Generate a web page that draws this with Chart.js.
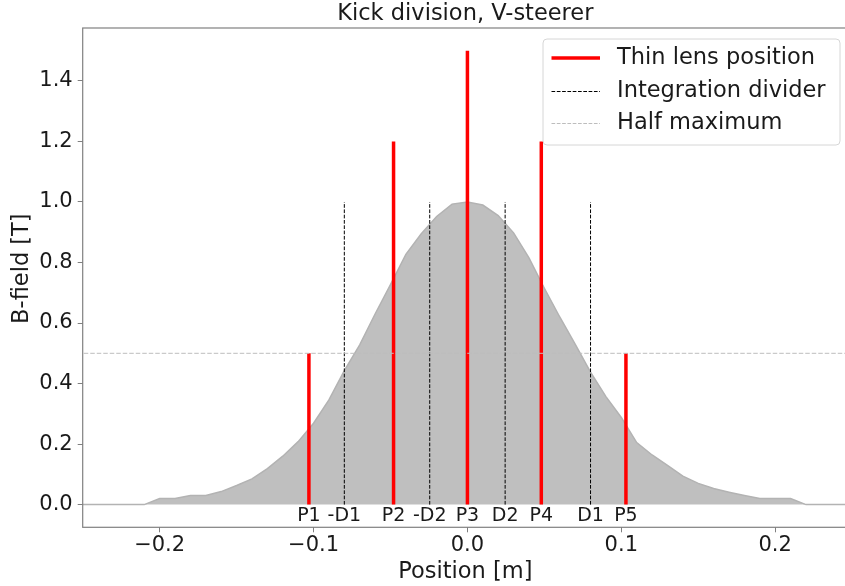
<!DOCTYPE html>
<html>
<head>
<meta charset="utf-8">
<script src="https://cdn.jsdelivr.net/npm/chart.js@4.4.1/dist/chart.umd.min.js"></script>
<style>
    html, body { margin: 0; padding: 0; background: #fff; overflow: hidden; }
    #wrap { position: relative; width: 848px; height: 586px; }
</style>
</head>
<body>
<div id="wrap"><canvas id="kickChart"></canvas></div>
<script>
// Field profile along the steerer
const fieldX = [-0.26, -0.21, -0.20, -0.19, -0.18, -0.17, -0.16, -0.15, -0.14, -0.13, -0.12, -0.11,
    -0.10, -0.09, -0.08, -0.07, -0.06, -0.05, -0.04, -0.03, -0.02, -0.01, 0.00,
    0.01, 0.02, 0.03, 0.04, 0.05, 0.06, 0.07, 0.08, 0.09, 0.10, 0.11, 0.12, 0.13,
    0.14, 0.15, 0.16, 0.17, 0.18, 0.19, 0.20, 0.21, 0.22, 0.26];
const fieldB = [0, 0, 0.02, 0.02, 0.03, 0.03, 0.043, 0.063, 0.085, 0.119, 0.16, 0.208,
    0.269, 0.346, 0.443, 0.528, 0.63, 0.727, 0.827, 0.895, 0.952, 0.993, 1.0,
    0.99, 0.955, 0.898, 0.815, 0.715, 0.62, 0.53, 0.438, 0.357, 0.288, 0.205, 0.164, 0.13,
    0.094, 0.07, 0.053, 0.041, 0.03, 0.02, 0.02, 0.02, 0, 0];

// Thin lens positions and kick heights
const lensPos = [-0.103, -0.048, 0.0, 0.048, 0.103];
const lensHeight = [0.5, 1.2, 1.5, 1.2, 0.5];
const lensLabels = ['P1', 'P2', 'P3', 'P4', 'P5'];

// Integration dividers
const dividerPos = [-0.08, -0.0245, 0.0245, 0.08];
const dividerHeight = [1.0, 1.0, 1.0, 1.0];
const dividerLabels = ['-D1', '-D2', 'D2', 'D1'];

const halfMax = 0.5;
const halfMaxSpan = [-0.3, 0.3];

const xTicksStep = 0.1;
const yTicksStep = 0.2;

const chartTitle = 'Kick division, V-steerer';
const yTitle = 'B-field [T]';
const xTitle = 'Position [m]';

const fontFamily = "'DejaVu Sans', sans-serif";
const textColor = '#1a1a1a';
const spineColor = '#808080';
const fillGrey = '#bfbfbf';
const lensRed = '#ff0000';
const labelSize = 22.5;

function verticalSegments(xs, hs) {
    const pts = [];
    xs.forEach((x, i) => {
        pts.push({ x: x, y: 0 });
        pts.push({ x: x, y: hs[i] });
        pts.push({ x: x, y: null });
    });
    return pts;
}

function fmtTick(v) {
    if (Math.abs(v) < 1e-9) return '0.0';
    return (v < 0 ? '\u2212' : '') + Math.abs(v).toFixed(1);
}

// frame, titles, position labels and legend box
const extrasPlugin = {
    id: 'extras',
    afterDatasetsDraw(chart) {
        const { ctx, chartArea: a, scales: { x, y } } = chart;
        ctx.save();
        // frame (all four spines)
        ctx.strokeStyle = spineColor;
        ctx.lineWidth = 1.2;
        ctx.strokeRect(a.left, a.top, a.right - a.left, a.bottom - a.top);

        // title centred over the axes
        ctx.fillStyle = textColor;
        ctx.font = `${labelSize}px ${fontFamily}`;
        ctx.textAlign = 'center';
        ctx.textBaseline = 'middle';
        ctx.fillText(chartTitle, (a.left + a.right) / 2, 14);

        // y axis title
        ctx.save();
        ctx.translate(22, (a.top + a.bottom) / 2 - 9);
        ctx.rotate(-Math.PI / 2);
        ctx.fillText(yTitle, 0, 0);
        ctx.restore();

        // P / D labels under the baseline
        ctx.font = `19px ${fontFamily}`;
        ctx.textBaseline = 'top';
        const y0 = y.getPixelForValue(0) + 2;
        lensPos.forEach((p, i) => ctx.fillText(lensLabels[i], x.getPixelForValue(p), y0));
        dividerPos.forEach((p, i) => ctx.fillText(dividerLabels[i], x.getPixelForValue(p), y0));

        // legend
        const lw = 297, lh = 106;
        const lx = a.right - 8 - lw, ly = a.top + 11;
        ctx.beginPath();
        ctx.roundRect(lx, ly, lw, lh, 4);
        ctx.fillStyle = 'rgba(255,255,255,0.8)';
        ctx.fill();
        ctx.strokeStyle = '#d6d6d6';
        ctx.lineWidth = 1;
        ctx.stroke();

        const items = [
            { text: 'Thin lens position', color: lensRed, width: 3.5, dash: [] },
            { text: 'Integration divider', color: '#000000', width: 1, dash: [3.7, 1.6] },
            { text: 'Half maximum', color: '#bdbdbd', width: 1, dash: [3.7, 1.6] }
        ];
        const rowY = [19, 52.5, 84.5];
        ctx.font = `${labelSize}px ${fontFamily}`;
        ctx.textAlign = 'left';
        ctx.textBaseline = 'middle';
        items.forEach((it, i) => {
            const ry = ly + rowY[i];
            ctx.beginPath();
            ctx.setLineDash(it.dash);
            ctx.strokeStyle = it.color;
            ctx.lineWidth = it.width;
            ctx.moveTo(lx + 8.5, ry);
            ctx.lineTo(lx + 57, ry);
            ctx.stroke();
            ctx.setLineDash([]);
            ctx.fillStyle = textColor;
            ctx.fillText(it.text, lx + 74, ry);
        });
        ctx.restore();
    }
};

Chart.defaults.font.family = fontFamily;
Chart.defaults.color = textColor;

new Chart(document.getElementById('kickChart'), {
    type: 'line',
    data: {
        datasets: [
            {
                label: 'Half maximum',
                data: halfMaxSpan.map(v => ({ x: v, y: halfMax })),
                borderColor: '#bdbdbd',
                borderWidth: 1,
                borderDash: [4.5, 2],
                pointRadius: 0,
                order: 0
            },
            {
                label: 'Thin lens position',
                data: verticalSegments(lensPos, lensHeight),
                borderColor: lensRed,
                borderWidth: 3.5,
                borderCapStyle: 'butt',
                pointRadius: 0,
                spanGaps: false,
                order: 1
            },
            {
                label: 'Integration divider',
                data: verticalSegments(dividerPos, dividerHeight),
                borderColor: '#000000',
                borderWidth: 1,
                borderDash: [3.7, 1.6],
                pointRadius: 0,
                spanGaps: false,
                order: 2
            },
            {
                label: 'B-field',
                data: fieldX.map((v, i) => ({ x: v, y: fieldB[i] })),
                borderColor: '#b3b3b3',
                borderWidth: 1.5,
                backgroundColor: fillGrey,
                fill: 'origin',
                pointRadius: 0,
                tension: 0,
                order: 3
            }
        ]
    },
    options: {
        responsive: true,
        maintainAspectRatio: false,
        animation: false,
        layout: { padding: { top: 28, left: 0, right: 0, bottom: 0 } },
        plugins: {
            legend: { display: false },
            tooltip: { enabled: false },
            title: { display: false }
        },
        scales: {
            x: {
                type: 'linear',
                min: -0.25,
                max: 0.2473,
                grid: { drawOnChartArea: false, drawTicks: true, tickLength: 5, color: spineColor },
                border: { display: false },
                ticks: {
                    stepSize: xTicksStep,
                    includeBounds: false,
                    padding: 1,
                    maxRotation: 0,
                    font: { size: 21 },
                    color: textColor,
                    callback: v => fmtTick(v)
                },
                title: {
                    display: true,
                    text: xTitle,
                    color: textColor,
                    font: { size: labelSize },
                    padding: { top: 0, bottom: 0.5 }
                },
                afterFit: s => { s.height = 58.7; }
            },
            y: {
                type: 'linear',
                min: -0.075,
                max: 1.575,
                grid: { drawOnChartArea: false, drawTicks: true, tickLength: 5, color: spineColor },
                border: { display: false },
                ticks: {
                    stepSize: yTicksStep,
                    includeBounds: false,
                    padding: 5,
                    font: { size: 21 },
                    color: textColor,
                    callback: v => fmtTick(v)
                },
                afterFit: s => { s.width = 82.7; }
            }
        }
    },
    plugins: [extrasPlugin]
});
</script>
</body>
</html>
